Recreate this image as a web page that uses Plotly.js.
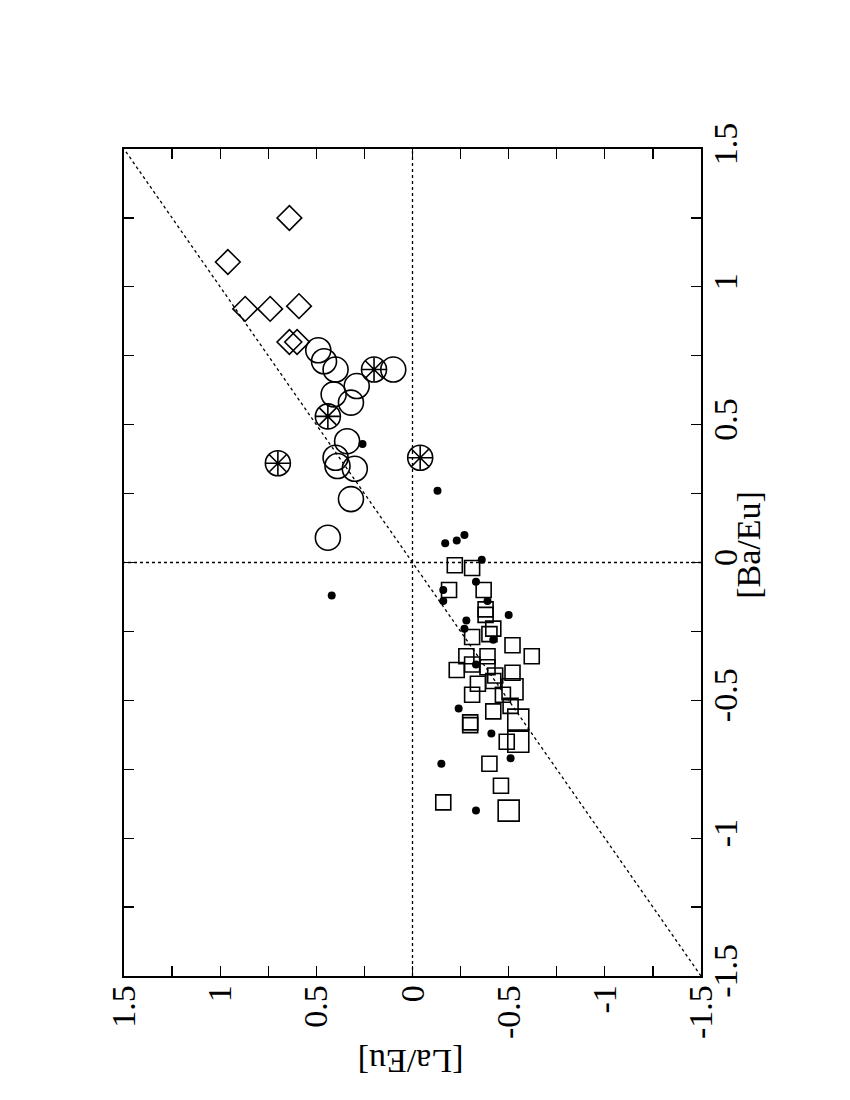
<!DOCTYPE html>
<html>
<head>
<meta charset="utf-8">
<script src="https://cdn.plot.ly/plotly-3.0.1.min.js"></script>
<style>
  body { margin: 0; background: #fff; }
  #graph { width: 850px; height: 1100px; }
</style>
</head>
<body>
<div id="graph"></div>
<script>
// values: [La/Eu] runs across, [Ba/Eu] runs up
var diamondLa = [0.64, 0.96, 0.87, 0.74, 0.59, 0.64, 0.60];
var diamondBa = [1.25, 1.09, 0.92, 0.92, 0.93, 0.80, 0.80];

var circleLa = [0.49, 0.46, 0.40, 0.10, 0.29, 0.41, 0.32, 0.34, 0.40, 0.39, 0.30, 0.32, 0.44];
var circleBa = [0.77, 0.73, 0.70, 0.70, 0.64, 0.61, 0.58, 0.44, 0.38, 0.35, 0.34, 0.23, 0.09];

// circles with a star inside
var starLa = [0.20, 0.44, 0.70, -0.04];
var starBa = [0.70, 0.53, 0.36, 0.38];

var dotLa = [0.26, -0.13, -0.17, -0.23, -0.27, 0.42, -0.36, -0.33, -0.16, -0.16, -0.39,
             -0.50, -0.28, -0.27, -0.42, -0.33, -0.24, -0.41, -0.51, -0.15, -0.33];
var dotBa = [0.43, 0.26, 0.07, 0.08, 0.10, -0.12, 0.01, -0.07, -0.10, -0.14, -0.14,
             -0.19, -0.21, -0.24, -0.28, -0.37, -0.53, -0.62, -0.71, -0.73, -0.90];

var squareLa = [-0.22, -0.31, -0.37, -0.19, -0.38, -0.38, -0.42, -0.31, -0.40, -0.39, -0.52,
                -0.62, -0.28, -0.23, -0.31, -0.39, -0.43, -0.52, -0.34, -0.42, -0.31, -0.47,
                -0.51, -0.42, -0.30, -0.30, -0.49, -0.40, -0.46, -0.16];
var squareBa = [-0.01, -0.02, -0.10, -0.10, -0.17, -0.19, -0.24, -0.27, -0.26, -0.34, -0.30,
                -0.34, -0.34, -0.39, -0.37, -0.38, -0.41, -0.40, -0.44, -0.43, -0.48, -0.48,
                -0.52, -0.54, -0.59, -0.58, -0.65, -0.73, -0.81, -0.87];

// the bigger squares
var bigSquareLa = [-0.52, -0.55, -0.55, -0.50];
var bigSquareBa = [-0.46, -0.57, -0.65, -0.90];

var tickVals = [1.5, 1, 0.5, 0, -0.5, -1, -1.5];
var tickText = ["1.5", "1", "0.5", "0", "-0.5", "-1", "-1.5"];

var lineRange = [-1.5, 1.5];

var serif = '"Liberation Serif", "Times New Roman", serif';

function drawGraph()
{
    var dotted = {color: 'black', width: 1.3, dash: 'dot'};
    var openLine = {width: 1.6, color: 'black'};

    var data = [
        {x: lineRange, y: lineRange, mode: 'lines', line: dotted, hoverinfo: 'skip'},
        {x: [0, 0], y: lineRange, mode: 'lines', line: dotted, hoverinfo: 'skip'},
        {x: lineRange, y: [0, 0], mode: 'lines', line: dotted, hoverinfo: 'skip'},
        {x: squareLa, y: squareBa, mode: 'markers', name: 'squares',
         marker: {symbol: 'square-open', size: 15, color: 'black', line: openLine}},
        {x: bigSquareLa, y: bigSquareBa, mode: 'markers', name: 'big squares',
         marker: {symbol: 'square-open', size: 21, color: 'black', line: openLine}},
        {x: dotLa, y: dotBa, mode: 'markers', name: 'dots',
         marker: {symbol: 'circle', size: 8, color: 'black'}},
        {x: circleLa, y: circleBa, mode: 'markers', name: 'circles',
         marker: {symbol: 'circle-open', size: 25, color: 'black', line: openLine}},
        {x: starLa, y: starBa, mode: 'markers', name: 'star circles',
         marker: {symbol: 'circle-open', size: 25, color: 'black', line: openLine}},
        {x: starLa, y: starBa, mode: 'markers', name: 'stars',
         marker: {symbol: 'asterisk-open', size: 20, color: 'black', line: openLine}},
        {x: diamondLa, y: diamondBa, mode: 'markers', name: 'diamonds',
         marker: {symbol: 'diamond-open', size: 19, color: 'black', line: openLine}}
    ];

    var axisCommon = {
        tickmode: 'array',
        tickvals: tickVals,
        ticktext: tickText,
        ticks: 'inside',
        ticklen: 10,
        tickwidth: 1.3,
        tickcolor: 'black',
        tickangle: -90,
        ticklabelstandoff: -6,
        minor: {dtick: 0.25, ticks: 'inside', ticklen: 10, tickwidth: 1.3, tickcolor: 'black'},
        showline: true,
        linecolor: 'black',
        linewidth: 1.6,
        mirror: 'allticks',
        showgrid: false,
        zeroline: false,
        tickfont: {family: serif, size: 34, color: 'black'}
    };

    var layout = {
        width: 850,
        height: 1100,
        showlegend: false,
        font: {family: serif, size: 34, color: 'black'},
        paper_bgcolor: 'white',
        plot_bgcolor: 'white',
        margin: {l: 124, r: 149, t: 149, b: 124},
        xaxis: Object.assign({}, axisCommon, {range: [1.5, -1.5]}),
        yaxis: Object.assign({}, axisCommon, {range: [-1.5, 1.5], side: 'right'}),
        annotations: [
            {text: '[La/Eu]', xref: 'paper', yref: 'paper', x: 0.496, y: -0.104,
             xanchor: 'center', yanchor: 'middle',
             showarrow: false, textangle: 180,
             font: {family: serif, size: 34, color: 'black'}},
            {text: '[Ba/Eu]', xref: 'paper', yref: 'paper', x: 1.081, y: 0.521,
             xanchor: 'center', yanchor: 'middle',
             showarrow: false, textangle: -90,
             font: {family: serif, size: 34, color: 'black'}}
        ]
    };

    Plotly.newPlot("graph", data, layout, {staticPlot: true});
}

drawGraph();
</script>
</body>
</html>
